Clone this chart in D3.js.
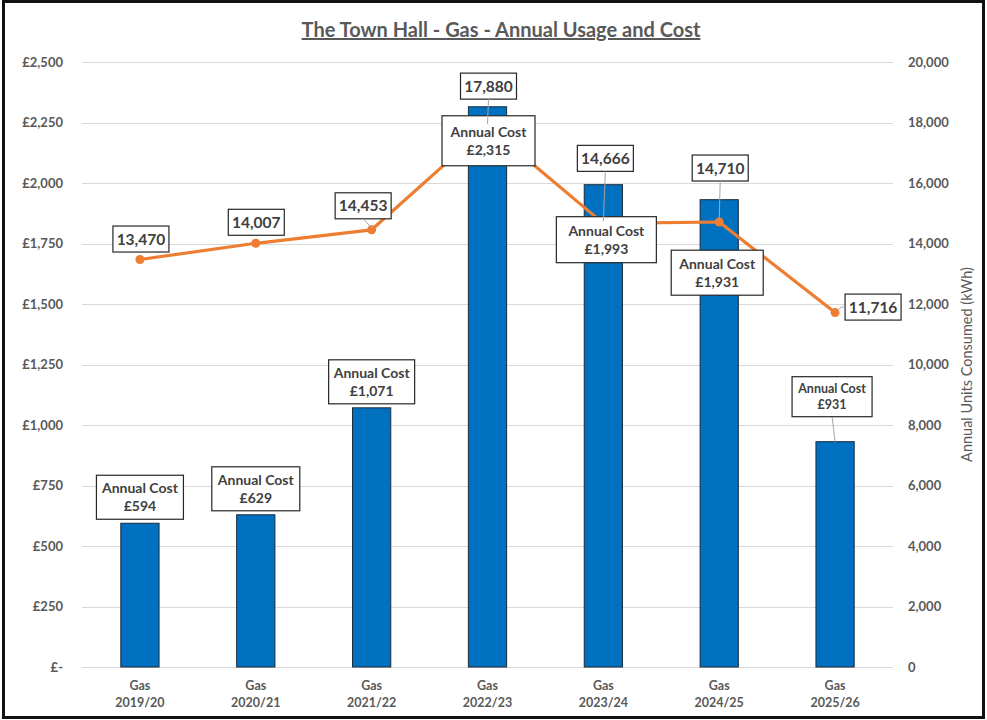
<!DOCTYPE html>
<html><head><meta charset="utf-8">
<script src="https://cdn.jsdelivr.net/npm/d3@7"></script>
<style>
html,body{margin:0;padding:0;background:#fff;}
svg{display:block;font-family:Lato,"Open Sans",sans-serif;}
</style></head>
<body><svg id="c" width="987" height="720"></svg>
<script>
// ---- data ----
const categories = ["2019/20","2020/21","2021/22","2022/23","2023/24","2024/25","2025/26"];
const categoryPrefix = "Gas";
const annualCost = [594, 629, 1071, 2315, 1993, 1931, 931];
const unitsConsumed = [13470, 14007, 14453, 17880, 14666, 14710, 11716];
const costTicks = [0,250,500,750,1000,1250,1500,1750,2000,2250,2500];
const unitTicks = [0,2000,4000,6000,8000,10000,12000,14000,16000,18000,20000];
const title = "The Town Hall - Gas - Annual Usage and Cost";
const rightAxisTitle = "Annual Units Consumed (kWh)";

// ---- label layout (offsets relative to the mark, box width) ----
const costLabelLayout = [
  {dx:0,dy:-26,w:87,h:44,fs:14},{dx:0,dy:-26,w:88,h:44,fs:14},{dx:0,dy:-26,w:86,h:44,fs:14},
  {dx:1,dy:34,w:93,h:50,fs:14},{dx:3,dy:55,w:100,h:46,fs:14},{dx:-2,dy:73,w:92,h:45,fs:14},
  {dx:-3,dy:-45,w:80,h:40,fs:12.5}
];
const unitLabelLayout = [
  {dx:1,dy:-20.5,leader:false},{dx:0.5,dy:-21,leader:false},{dx:-8.5,dy:-24,leader:true},
  {dx:1,dy:-40,leader:true},{dx:2,dy:-65,leader:true},{dx:1,dy:-54,leader:true},
  {dx:38,dy:-5.5,leader:true,side:"left"}
];

const svg = d3.select("#c");
const M = {left:82, right:893, top:62, bottom:667};

const x = d3.scaleBand().domain(categories).range([M.left, M.right]).paddingInner(0.67).paddingOuter(0.335);
const yL = d3.scaleLinear().domain([0,2500]).range([M.bottom, M.top]);
const yR = d3.scaleLinear().domain([0,20000]).range([M.bottom, M.top]);
const cx = c => x(c) + x.bandwidth()/2;

// border
svg.append("rect").attr("x",3.5).attr("y",1.5).attr("width",980).attr("height",716)
  .attr("fill","none").attr("stroke","#111").attr("stroke-width",3);

// title
svg.append("text").attr("x",501).attr("y",37).attr("text-anchor","middle")
  .attr("font-size",20).attr("font-weight",700).attr("fill","#595959")
  .attr("text-decoration","underline").text(title);

// gridlines
svg.append("g").selectAll("line").data(costTicks).join("line")
  .attr("x1",M.left).attr("x2",M.right)
  .attr("y1",d=>Math.round(yL(d))+0.5).attr("y2",d=>Math.round(yL(d))+0.5)
  .attr("stroke","#d9d9d9").attr("stroke-width",1);

// left axis
const axL = d3.axisLeft(yL).tickValues(costTicks).tickSize(0).tickPadding(19)
  .tickFormat(d => d===0 ? "£-" : "£"+d3.format(",")(d));
const gL = svg.append("g").attr("transform",`translate(${M.left},0)`).call(axL);
gL.select(".domain").remove();
gL.selectAll("text").attr("font-size",13).attr("font-weight",700).attr("fill","#595959")
  .attr("font-family","Lato,sans-serif");

// right axis
const axR = d3.axisRight(yR).tickValues(unitTicks).tickSize(0).tickPadding(15)
  .tickFormat(d3.format(","));
const gR = svg.append("g").attr("transform",`translate(${M.right},0)`).call(axR);
gR.select(".domain").remove();
gR.selectAll("text").attr("font-size",13).attr("font-weight",700).attr("fill","#595959")
  .attr("font-family","Lato,sans-serif");

svg.append("text").attr("transform",`translate(972,${(M.top+M.bottom)/2}) rotate(-90)`)
  .attr("text-anchor","middle").attr("font-size",14.5).attr("fill","#595959").text(rightAxisTitle);

// x axis labels
const gX = svg.append("g");
categories.forEach(c => {
  const t = gX.append("text").attr("x",cx(c)).attr("text-anchor","middle")
    .attr("font-size",12.5).attr("font-weight",700).attr("fill","#595959");
  t.append("tspan").attr("x",cx(c)).attr("y",690).text(categoryPrefix);
  t.append("tspan").attr("x",cx(c)).attr("y",707).text(c);
});

// bars
svg.append("g").selectAll("rect").data(annualCost).join("rect")
  .attr("x",(d,i)=>x(categories[i])).attr("width",x.bandwidth())
  .attr("y",d=>yL(d)).attr("height",d=>M.bottom-yL(d))
  .attr("fill","#0070C0").attr("stroke","#1a2a3a").attr("stroke-width",1);

// line
const line = d3.line().x((d,i)=>cx(categories[i])).y(d=>yR(d));
svg.append("path").datum(unitsConsumed).attr("d",line)
  .attr("fill","none").attr("stroke","#ED7D31").attr("stroke-width",3.2).attr("stroke-linejoin","round");
svg.append("g").selectAll("circle").data(unitsConsumed).join("circle")
  .attr("cx",(d,i)=>cx(categories[i])).attr("cy",d=>yR(d)).attr("r",4.5).attr("fill","#ED7D31");

const fmt = d3.format(",");
const leaders = svg.append("g");
const labels = svg.append("g");

// cost labels
annualCost.forEach((v,i) => {
  const L = costLabelLayout[i];
  const bx = cx(categories[i]) + L.dx, by = yL(v) + L.dy;
  const g = labels.append("g");
  g.append("rect").attr("x",bx-L.w/2).attr("y",by-L.h/2).attr("width",L.w).attr("height",L.h)
    .attr("fill","#fff").attr("stroke","#262626").attr("stroke-width",1.2);
  const t = g.append("text").attr("text-anchor","middle").attr("font-size",L.fs).attr("font-weight",700).attr("fill","#404040");
  const lh = L.fs*1.28;
  t.append("tspan").attr("x",bx).attr("y",by - lh/2 + L.fs*0.35).text("Annual Cost");
  t.append("tspan").attr("x",bx).attr("y",by + lh/2 + L.fs*0.35).text("£"+fmt(v));
  if (L.dy < -30) {
    leaders.append("line").attr("x1",bx).attr("y1",by+L.h/2).attr("x2",cx(categories[i])).attr("y2",yL(v))
      .attr("stroke","#a6a6a6").attr("stroke-width",1);
  }
});

// unit labels
const uBoxW = 56, uBoxH = 26;
const uLabels = svg.append("g");
const uLeaders = svg.append("g");
unitsConsumed.forEach((v,i) => {
  const L = unitLabelLayout[i];
  const px = cx(categories[i]), py = yR(v);
  const bx = px + L.dx, by = py + L.dy;
  uLabels.append("rect").attr("x",bx-uBoxW/2).attr("y",by-uBoxH/2).attr("width",uBoxW).attr("height",uBoxH)
    .attr("fill","#fff").attr("stroke","#262626").attr("stroke-width",1.2);
  uLabels.append("text").attr("x",bx).attr("y",by+5.5).attr("text-anchor","middle")
    .attr("font-size",15.5).attr("font-weight",700).attr("fill","#404040").text(fmt(v));
  if (L.leader) {
    if (L.side === "left") {
      uLeaders.append("polyline").attr("points",`${px+2},${py-1} ${bx-uBoxW/2-4},${by} ${bx-uBoxW/2},${by}`)
        .attr("fill","none").attr("stroke","#a6a6a6").attr("stroke-width",1);
    } else {
      uLeaders.append("line").attr("x1",bx).attr("y1",by+uBoxH/2).attr("x2",px).attr("y2",py-2)
        .attr("stroke","#a6a6a6").attr("stroke-width",1);
    }
  }
});
</script></body></html>
